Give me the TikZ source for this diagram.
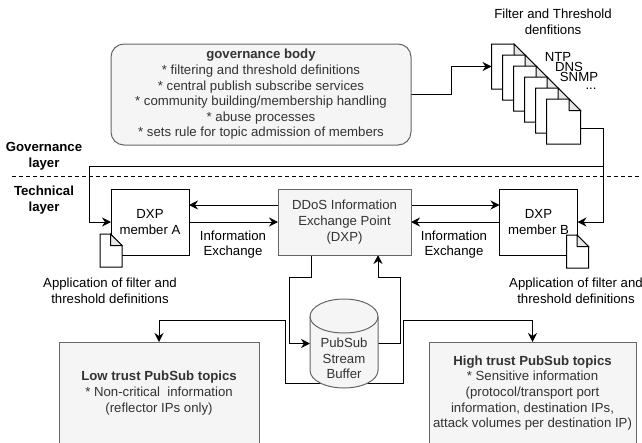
\documentclass[tikz,border=0pt]{standalone}
\usepackage{fontspec}
\setmainfont{Liberation Sans}
\usetikzlibrary{arrows.meta,calc}
\pgfdeclarelayer{bg}
\pgfsetlayers{bg,main}
\definecolor{graybox}{HTML}{F5F5F5}
\definecolor{grayline}{HTML}{666666}
\definecolor{graytext}{HTML}{333333}
\definecolor{foldfill}{HTML}{E8E8E8}
\newcommand{\docshape}[5]{% name, x, y, w, h
  \node[docspace,minimum width=#4pt,minimum height=#5pt] (#1) at (#2+#4/2,#3+#5/2) {};
  \draw[line width=1pt,fill=white,line join=miter] (#1.north west) -- ++(#4-11.5,0) -- ($(#1.north east)+(0,11.5)$) -- (#1.south east) -- (#1.south west) -- cycle;
  \draw[line width=1pt,fill=foldfill] ($(#1.north west)+(#4-11.5,0)$) -- ($(#1.north east)+(0,11.5)$) -- ($(#1.north west)+(#4-11.5,11.5)$) -- cycle;
}
\tikzset{
  docspace/.style={inner sep=0pt,outer sep=0pt},
  txt/.style={font=\fontsize{13.2}{15.6}\selectfont,align=center,inner sep=0pt},
  graytxt/.style={txt,text=graytext},
  greybox/.style={draw=grayline,fill=graybox,line width=1pt,inner sep=0pt,outer sep=0pt,txt,text=graytext},
  member/.style={draw=black,fill=white,line width=1pt,inner sep=0pt,outer sep=0pt,txt,minimum width=78pt,minimum height=66pt},
  conn/.style={draw=black,line width=1pt,-{Stealth[length=9pt,width=9pt,inset=3pt]}},
  plain/.style={draw=black,line width=1pt},
}
\begin{document}
\begin{tikzpicture}[x=1pt,y=-1pt]
\useasboundingbox (0,0) rectangle (642,442);
% boxes
\node[greybox,rounded corners=13pt,minimum width=300pt,minimum height=101pt] (gov) at (261,94.5)
  {\textbf{governance body}\\* filtering and threshold definitions\\* central publish subscribe services\\* community building/membership handling\\* abuse processes\\* sets rule for topic admission of members};
\node[member] (mA) at (150,222) {DXP\\member A};
\node[member] (mB) at (538.5,222) {DXP\\member B};
\node[greybox,minimum width=133pt,minimum height=66pt] (dxp) at (344.5,222) {DDoS Information\\Exchange Point\\(DXP)};
\node[greybox,minimum width=200pt,minimum height=102pt] (low) at (159,393) {\textbf{Low trust PubSub topics}\\* Non-critical\ \ information\\(reflector IPs only)};
\node[greybox,minimum width=207pt,minimum height=102pt] (high) at (532.5,393) {\textbf{High trust PubSub topics}\\* Sensitive information\\(protocol/transport port\\information, destination IPs,\\attack volumes per destination IP)};
\node[inner sep=0pt,outer sep=0pt,minimum width=68pt,minimum height=89pt] (buf) at (344,343.5) {};
\draw[draw=grayline,fill=graybox,line width=1pt]
  ($(buf.west)+(0,-27)$) .. controls ($(buf.west)+(0,-36.5)$) and ($(buf.north)+(-19,0)$) .. (buf.north)
  .. controls ($(buf.north)+(19,0)$) and ($(buf.east)+(0,-36.5)$) .. ($(buf.east)+(0,-27)$)
  -- ($(buf.east)+(0,27)$)
  .. controls ($(buf.east)+(0,36.5)$) and ($(buf.south)+(19,0)$) .. (buf.south)
  .. controls ($(buf.south)+(-19,0)$) and ($(buf.west)+(0,36.5)$) .. ($(buf.west)+(0,27)$)
  -- cycle;
\draw[draw=grayline,line width=1pt]
  ($(buf.west)+(0,-27)$) .. controls ($(buf.west)+(0,-17.5)$) and ($(buf.north)+(-19,34)$) .. ($(buf.north)+(0,34)$)
  .. controls ($(buf.north)+(19,34)$) and ($(buf.east)+(0,-17.5)$) .. ($(buf.east)+(0,-27)$);
\node[graytxt] (buftxt) at (344,358.5) {PubSub\\Stream\\Buffer};
% documents
\docshape{d1}{491.5}{44}{34}{45}
\docshape{d2}{502.5}{55}{34}{45}
\docshape{d3}{513.5}{66}{34}{45}
\docshape{d4}{524.5}{77}{34}{45}
\docshape{d5}{535.5}{88}{34}{45}
\docshape{d6}{546.5}{99}{34}{45}
\docshape{dA}{100}{234}{22}{33}
\docshape{dB}{566.5}{235}{22}{33}
% free labels
\node[txt] (t1) at (553,22) {Filter and Threshold\\denfitions};
\node[txt] (t2) at (558,57) {NTP};
\node[txt] (t3) at (569,67) {DNS};
\node[txt] (t4) at (579,77) {SNMP};
\node[txt] (t5) at (591,89) {...};
\node[txt,font=\fontsize{13.2}{15.6}\selectfont\bfseries] (t6) at (44,156) {Governance\\layer};
\node[txt,font=\fontsize{13.2}{15.6}\selectfont\bfseries] (t7) at (44,200) {Technical\\layer};
\node[txt] (t8) at (233,244.5) {Information\\Exchange};
\node[txt] (t9) at (454,244.5) {Information\\Exchange};
\node[txt] (t10) at (110,290.5) {Application of filter and\\threshold definitions};
\node[txt] (t11) at (576,290.5) {Application of filter and\\threshold definitions};
% dashed separator
\coordinate (sepL) at (12,176);
\coordinate (sepR) at (642,176);
\coordinate (split) at (603,166);
\begin{pgfonlayer}{bg}
\draw[plain,dashed,dash pattern=on 4pt off 3pt] (sepL) -- (sepR);
\draw[conn] (gov.east) -- ++(40,0) |- (d1.west);
\draw[plain] ($(d6.south east)+(0,-16)$) -| (split);
\draw[conn] (split) -- (89,166) |- (mA.west);
\draw[conn] (split) |- ($(mB.east)$);
\draw[conn] ($(dxp.west)+(0,-17)$) -- ($(mA.east)+(0,-17)$);
\draw[conn] (mA.east) -- (dxp.west);
\draw[conn] ($(dxp.east)+(0,-17)$) -- ($(mB.west)+(0,-17)$);
\draw[conn] (mB.west) -- (dxp.east);
\draw[conn] ($(dxp.south)+(-33,0)$) -- ++(0,22) -- ++(-22,0) |- (buf.west);
\draw[conn] (buf.east) -- ++(22,0) -- ++(0,-66) -- ++(-22,0) -- ($(dxp.south)+(33.5,0)$);
\draw[conn] ($(buf.center)+(-20,39.5)$) -- (285,383) -- (285,320) -| (low.north);
\draw[conn] ($(buf.center)+(14,39.5)$) -- (403,383) -- (403,320) -| (high.north);
\end{pgfonlayer}
\end{tikzpicture}
\end{document}
